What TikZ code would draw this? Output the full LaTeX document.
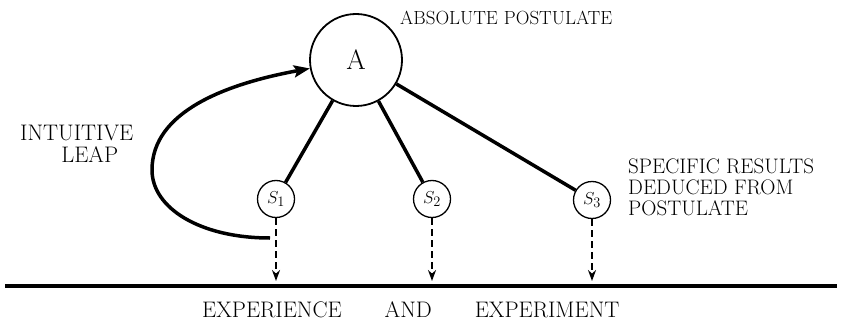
\documentclass[tikz,border=0pt]{standalone}
\usepackage{fontspec}
\usetikzlibrary{arrows.meta}
\begin{document}
\begin{tikzpicture}[x=1pt,y=-1pt,
  lab/.style={font=\fontsize{22.5}{21}\selectfont\addfontfeature{LetterSpace=14}, inner sep=0pt},
  big/.style={draw, circle, line width=1.8pt, minimum size=92pt, inner sep=0pt, font=\fontsize{28}{28}\selectfont},
  small/.style={draw, circle, line width=1.3pt, minimum size=37pt, inner sep=0pt, font=\fontsize{19}{19}\selectfont},
  link/.style={line width=3.5pt},
  drop/.style={line width=2.2pt, dash pattern=on 7pt off 4pt, -{Stealth[length=11pt,width=8pt]}},
  leap/.style={line width=3.5pt, -{Stealth[length=16pt,width=12pt,inset=3pt]}}
]
\useasboundingbox (0,0) rectangle (842,326);
\node[big] (A) at (356,60) {A};
\node[small] (s1) at (276,199) {$S_1$};
\node[small] (s2) at (432,199) {$S_2$};
\node[small] (s3) at (592,200) {$S_3$};
\draw[link] (A) -- (s1);
\draw[link] (A) -- (s2);
\draw[link] (A) -- (s3);
\coordinate (e1) at (276,281);
\coordinate (e2) at (432,281);
\coordinate (e3) at (592,281);
\draw[drop] (s1) -- (e1);
\draw[drop] (s2) -- (e2);
\draw[drop] (s3) -- (e3);
\coordinate (gl) at (5,286);
\coordinate (gr) at (837,286);
\draw[line width=3.2pt] (gl) -- (gr);
\coordinate (c0) at (270,238);
\draw[leap] (c0) .. controls (200,238) and (152,208) .. (152,170) .. controls (152,112) and (225,84) .. (A);
\node[lab, font=\fontsize{19}{21}\selectfont\addfontfeature{LetterSpace=8}, anchor=west] (tA) at (400,18) {ABSOLUTE\hspace{6pt}POSTULATE};
\node[lab, anchor=north west, align=center] (tI) at (20,125) {INTUITIVE\\[1pt] \hspace*{26pt}LEAP};
\node[lab, font=\fontsize{21}{21}\selectfont\addfontfeature{LetterSpace=14}, align=left, anchor=north west] (tS) at (628,159) {SPECIFIC RESULTS\\DEDUCED FROM\\POSTULATE};
\node[lab, anchor=west] (tE) at (202,310) {EXPERIENCE\hspace{43pt}AND\hspace{43pt}EXPERIMENT};
\end{tikzpicture}
\end{document}
